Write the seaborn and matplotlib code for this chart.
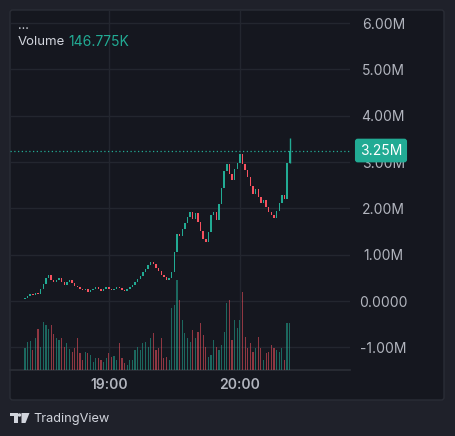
import numpy as np
import pandas as pd
import matplotlib
matplotlib.use("Agg")
import matplotlib.pyplot as plt
import seaborn as sns
from matplotlib.patches import FancyBboxPatch, Rectangle, Polygon, Circle

# цены закрытия по свечам (в миллионах)
closes = [0.06, 0.10, 0.15, 0.13, 0.18, 0.16, 0.26, 0.36, 0.50, 0.56,
          0.46, 0.40, 0.45, 0.50, 0.42, 0.35, 0.40, 0.45, 0.38, 0.33,
          0.30, 0.26, 0.23, 0.25, 0.20, 0.23, 0.27, 0.30, 0.26, 0.22,
          0.25, 0.30, 0.27, 0.23, 0.26, 0.31, 0.28, 0.24, 0.21, 0.26,
          0.30, 0.34, 0.40, 0.47, 0.55, 0.62, 0.70, 0.78, 0.85, 0.80,
          0.72, 0.64, 0.57, 0.52, 0.45, 0.50, 0.62, 1.05, 1.45, 1.40,
          1.55, 1.68, 1.82, 1.92, 1.78, 1.90, 1.70, 1.52, 1.35, 1.28,
          1.50, 1.85, 1.92, 1.75, 2.10, 2.45, 2.80, 2.95, 2.75, 2.62,
          2.85, 2.98, 3.18, 2.95, 2.82, 2.68, 2.48, 2.32, 2.42, 2.25,
          2.12, 2.18, 2.02, 1.92, 1.85, 1.80, 1.95, 2.12, 2.30, 2.20,
          2.98, 3.25]
first_open = 0.05
last_high = 3.52

# объём (тыс.)
volumes_k = [68, 87, 90, 62, 99, 127, 71, 149, 140, 127,
             140, 112, 99, 93, 99, 71, 84, 65, 56, 68,
             99, 53, 31, 56, 53, 47, 25, 37, 37, 31,
             25, 37, 53, 40, 43, 31, 84, 37, 22, 16,
             31, 31, 62, 71, 62, 84, 87, 71, 99, 115,
             62, 68, 99, 37, 40, 31, 192, 202, 279, 217,
             155, 115, 99, 87, 124, 99, 118, 146, 109, 71,
             40, 47, 93, 71, 62, 78, 118, 208, 217, 93,
             155, 130, 155, 242, 102, 68, 84, 56, 68, 102,
             68, 31, 53, 56, 78, 68, 62, 56, 68, 31,
             146, 146.775]

price_ticks = [-1, 0, 1, 2, 3, 4, 5, 6]
price_labels = ['-1.00M', '0.0000', '1.00M', '2.00M', '3.00M', '4.00M', '5.00M', '6.00M']
time_labels = ['19:00', '20:00']
start_time = '2024-01-01 18:21:36'
step = '72s'
last_label = '3.25M'
volume_label = '146.775K'

UP = '#22ab94'
DOWN = '#f7525f'
BG_OUT = '#1f212a'
BG_IN = '#15171f'
GRID = '#23262f'
TXT = '#b2b5be'

sns.set_theme(style='dark')
plt.rcParams['font.family'] = ['Inter', 'DejaVu Sans']

df = pd.DataFrame({
    'time': pd.date_range(start_time, periods=len(closes), freq=step),
    'close': closes,
    'volume': volumes_k,
})
df['open'] = [first_open] + closes[:-1]
df['dir'] = np.where(df['close'] >= df['open'], 'up', 'down')
df['x'] = np.arange(len(df))

W, H = 455, 436
def fx(px):
    return px / W
def fy(py):
    return 1 - py / H

fig = plt.figure(figsize=(W / 100, H / 100), dpi=100)
fig.patch.set_facecolor(BG_OUT)

pane = FancyBboxPatch((fx(10), fy(400)), fx(434), 390 / H,
                      boxstyle='round,pad=0,rounding_size=0.006',
                      transform=fig.transFigure, facecolor=BG_IN,
                      edgecolor='#2a2d36', lw=1, zorder=-10)
fig.patches.append(pane)

ax = fig.add_axes([fx(10), fy(370), fx(340), 360 / H])
ax.set_facecolor('none')

# свечи
colors = [UP if d == 'up' else DOWN for d in df['dir']]
ax.bar(df['x'], df['close'] - df['open'], bottom=df['open'], width=0.55,
       color=colors, linewidth=0)
ax.vlines(df['x'].iloc[-1], df['open'].iloc[-1], last_high, color=UP, lw=1)

# объём на отдельной оси
axv = ax.twinx()
sns.barplot(data=df, x='x', y='volume', hue='dir',
            palette={'up': UP, 'down': DOWN}, native_scale=True,
            dodge=False, width=0.45, alpha=0.55, saturation=1,
            linewidth=0, edgecolor='none', legend=False, ax=axv)
axv.set_ylim(0, max(volumes_k) / 0.25)
axv.set_yticks([])
axv.set_ylabel('')
axv.set_xlabel('')
axv.grid(False)
for s in axv.spines.values():
    s.set_visible(False)

# линия последней цены
ax.axhline(closes[-1], color=UP, ls=(0, (1, 2)), lw=0.9)
ax.text(1 + 31 / 340, closes[-1], last_label, transform=ax.get_yaxis_transform(),
        ha='center', va='center', color='white', fontsize=10,
        bbox=dict(boxstyle='round,pad=0.35,rounding_size=0.2', fc=UP, ec='none'),
        zorder=10, clip_on=False)

ax.set_ylim(-1.49, 6.285)
ax.yaxis.tick_right()
ax.set_yticks(price_ticks, price_labels)
for t in ax.get_yticklabels():
    t.set_ha('center')
ax.tick_params(axis='y', colors=TXT, length=0, pad=24, labelsize=10)

hhmm = df['time'].dt.strftime('%H:%M').tolist()
tick_pos = [df['x'][hhmm.index(t)] for t in time_labels]
ax.set_xticks(tick_pos, time_labels)
ax.tick_params(axis='x', colors=TXT, length=0, pad=6, labelsize=10)
for t in ax.get_xticklabels():
    t.set_fontweight('semibold')
ax.set_xlim(-5.7, 124.0)
ax.set_xlabel('')
ax.set_ylabel('')

ax.grid(True, color=GRID, lw=1)
for name, s in ax.spines.items():
    s.set_visible(name == 'bottom')
ax.spines['bottom'].set_color('#2a2d36')

# легенда сверху
fig.text(fx(18), fy(29), '...', color='#d1d4dc', fontsize=9, va='baseline')
fig.text(fx(18), fy(42), 'Volume', color='#d1d4dc', fontsize=9.5, va='center')
fig.text(fx(68), fy(42), volume_label, color=UP, fontsize=10, va='center')

# логотип
lc = '#d1d4dc'
fig.patches.append(Rectangle((fx(10), fy(416)), fx(7.5), 3 / H, transform=fig.transFigure, fc=lc, ec='none'))
fig.patches.append(Rectangle((fx(13.5), fy(423)), fx(4), 10 / H, transform=fig.transFigure, fc=lc, ec='none'))
fig.patches.append(Polygon([(fx(21.5), fy(413)), (fx(29.5), fy(413)), (fx(25.5), fy(423)), (fx(21.5), fy(423))],
                           closed=True, transform=fig.transFigure, fc=lc, ec='none'))
fig.patches.append(Circle((fx(19.5), fy(415)), 1.8 / W, transform=fig.transFigure, fc=lc, ec='none'))
fig.text(fx(33), fy(418.5), 'TradingView', color=lc, fontsize=9.2, va='center')

fig.savefig('out.png', dpi=100, facecolor=fig.get_facecolor())
